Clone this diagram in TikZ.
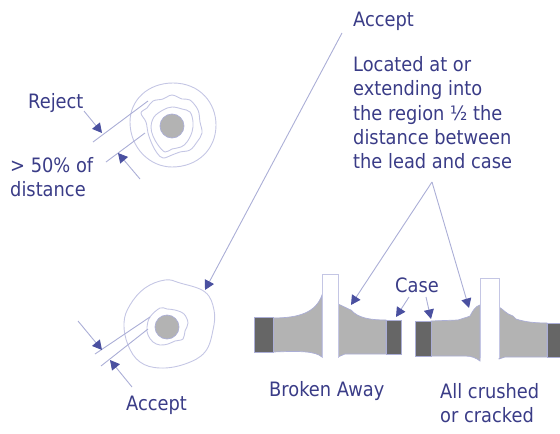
\documentclass[tikz,border=0pt]{standalone}
\usepackage{fontspec}
\setmainfont[FakeStretch=0.9]{DejaVu Sans}
\usetikzlibrary{arrows.meta}
\definecolor{txt}{HTML}{3A3C87}
\definecolor{arw}{HTML}{4A50A0}
\definecolor{thin}{HTML}{ABAED6}
\definecolor{pale}{HTML}{C4C6E4}
\definecolor{lead}{HTML}{B3B3B3}
\definecolor{casec}{HTML}{666666}
\tikzset{
 x=1pt,y=-1pt,
 lab/.style={text=txt,font=\fontsize{19.8}{20}\selectfont,inner sep=0pt,anchor=base west},
 wire/.style={draw=thin,line width=0.9pt},
 contour/.style={draw=pale,line width=0.9pt},
 pointer/.style={draw=thin,line width=0.9pt,-{Triangle[length=9.5pt,width=10pt,fill=arw,color=arw]}},
 solder/.style={fill=lead,draw=thin,line width=0.7pt},
 casebox/.style={fill=casec,draw=thin,line width=0.5pt},
 pin/.style={fill=white,draw=pale,line width=0.9pt},
 core/.style={fill=lead,draw=thin,line width=0.7pt,circle,minimum size=24pt,inner sep=0pt}
}
\begin{document}
\begin{tikzpicture}
\useasboundingbox (0,0) rectangle (560,434);
% top cross-section
\draw[contour] (173,83) .. controls (200,83) and (216,103) .. (216,125) .. controls (216,150) and (197,167) .. (172,167) .. controls (150,167) and (130,148) .. (130,122) .. controls (130,100) and (148,83) .. (173,83) -- cycle;
\draw[contour] plot[smooth cycle,tension=0.6] coordinates {(153,101)(163,99)(172,95)(182,99)(190,100)(198,110)(200,122)(202,133)(197,142)(190,150)(180,152)(172,155)(163,158)(157,153)(152,144)(148,133)(146,122)(141,113)(147,108)};
\draw[contour] plot[smooth cycle,tension=0.6] coordinates {(163,110)(172,107)(182,109)(190,112)(193,122)(192,132)(187,142)(181,147)(172,149)(165,152)(158,145)(153,136)(151,127)(154,117)};
\node[core] (lead1) at (172,126) {};
% bottom cross-section
\draw[contour] plot[smooth cycle,tension=0.65] coordinates {(165,280)(180,283)(205,292)(214,310)(213,330)(205,352)(185,364)(160,368)(140,362)(128,345)(124,323)(130,305)(145,288)};
\draw[contour] plot[smooth cycle,tension=0.6] coordinates {(160,308)(167,309)(175,310)(184,314)(188,323)(185,331)(183,339)(175,341)(168,344)(160,345)(153,342)(148,335)(147,327)(150,317)};
\node[core] (lead2) at (167,327) {};
% reject / accept wires
\coordinate (r1) at (93,142); \coordinate (r2) at (148,101);
\coordinate (r3) at (106,162); \coordinate (r4) at (145,133);
\coordinate (a1) at (95,354); \coordinate (a2) at (150,317);
\coordinate (a3) at (101,366); \coordinate (a4) at (148,329);
\draw[wire] (r1)--(r2); \draw[wire] (r3)--(r4);
\draw[wire] (a1)--(a2); \draw[wire] (a3)--(a4);
% left component
\draw[solder] (273,318) .. controls (300,318) and (316,312) .. (322,295) -- (322,357) .. controls (315,351) and (300,351) .. (273,352) -- cycle;
\draw[solder] (338,304) .. controls (345,307) and (348,309) .. (351,310) .. controls (358,318) and (370,320) .. (386,320) -- (386,354) -- (345,354) -- (338,357) -- cycle;
\draw[casebox] (254,317) rectangle (273,352);
\draw[casebox] (386,320) rectangle (401,354);
\draw[pin] (322,358) -- (322,274) -- (338,274) -- (338,358);
% right component
\draw[solder] (431,321) -- (458,320) .. controls (464,318) and (468,317) .. (470,316) .. controls (473,310) and (476,306) .. (480,305) -- (480,361) .. controls (476,358) and (472,356) .. (465,356) -- (431,356) -- cycle;
\draw[solder] (499,307) .. controls (503,309) and (506,314) .. (513,316) -- (516,319) .. controls (525,322) and (535,323) .. (547,323) -- (547,357) -- (505,357) -- (499,359) -- cycle;
\draw[casebox] (415,321) rectangle (431,356);
\draw[casebox] (547,323) rectangle (560,357);
\draw[pin] (480,358) -- (480,278) -- (499,278) -- (499,358);
% text
\node[lab] (accept1) at (353,26) {Accept};
\node[lab] (loc1) at (353,71) {Located at or};
\node[lab] (loc2) at (353,95) {extending into};
\node[lab] (loc3) at (353,120) {the region ½ the};
\node[lab] (loc4) at (353,144) {distance between};
\node[lab] (loc5) at (353,168) {the lead and case};
\node[lab] (reject) at (28,108) {Reject};
\node[lab] (pct) at (10,172) {> 50\% of};
\node[lab] (dist) at (10,196) {distance};
\node[lab] (accept2) at (126,410) {Accept};
\node[lab] (casel) at (395,292) {Case};
\node[lab] (broken) at (269,396) {Broken Away};
\node[lab] (crushed) at (440,398) {All crushed};
\node[lab] (cracked) at (440,422) {or cracked};
% pointers
\coordinate (p1a) at (342,33); \coordinate (p1b) at (205,290);
\coordinate (p2a) at (432,182); \coordinate (p2b) at (351,305); \coordinate (p2c) at (469,308);
\coordinate (p3a) at (409,297); \coordinate (p3b) at (396,317);
\coordinate (p4a) at (426,297); \coordinate (p4b) at (431,319);
\coordinate (p5a) at (84,111); \coordinate (p5b) at (102,133);
\coordinate (p6a) at (140,179); \coordinate (p6b) at (118,153);
\coordinate (p7a) at (78,321); \coordinate (p7b) at (102,350);
\coordinate (p8a) at (132,387); \coordinate (p8b) at (110,360);
\foreach \s/\e in {p1a/p1b,p2a/p2b,p2a/p2c,p3a/p3b,p4a/p4b,p5a/p5b,p6a/p6b,p7a/p7b,p8a/p8b}
 \draw[pointer] (\s) -- (\e);
\end{tikzpicture}
\end{document}
